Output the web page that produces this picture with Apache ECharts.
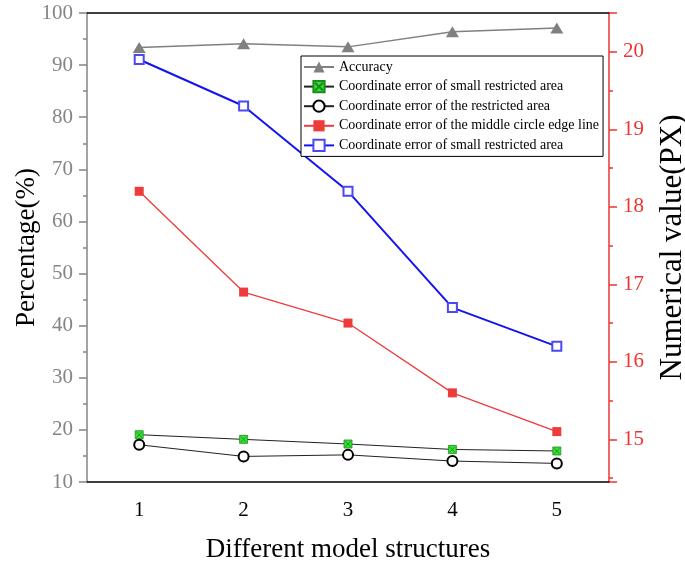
<!DOCTYPE html>
<html>
<head>
<meta charset="utf-8">
<script src="https://cdn.jsdelivr.net/npm/echarts@6/dist/echarts.min.js"></script>
<style>
  html, body { margin: 0; padding: 0; background: #fff; }
  #chart { width: 685px; height: 563px; }
</style>
</head>
<body>
<div id="chart"></div>
<script>
// model structures on the x axis
const structures = ['1', '2', '3', '4', '5'];
// left axis: accuracy in %
const accuracy = [93.4, 94.1, 93.5, 96.4, 97.1];
// right axis: coordinate errors in pixels
const errSmallArea = [15.06, 15.0, 14.94, 14.87, 14.85];
const errRestrictedArea = [14.93, 14.78, 14.80, 14.72, 14.69];
const errCircleEdge = [18.2, 16.9, 16.5, 15.6, 15.1];
const errSmallArea2 = [19.9, 19.3, 18.2, 16.7, 16.2];

const serif = 'Liberation Serif';
// green box with a cross in it
const crossBox = 'path://M0,0L10,0L10,10L0,10Z M1.5,1.5L8.5,8.5 M8.5,1.5L1.5,8.5';

const gridBox = { left: 87, right: 76, top: 13, bottom: 81, outerBoundsMode: 'none' };

let chart = echarts.init(document.getElementById('chart'));
let option = {
    animation: false,
    backgroundColor: '#fff',
    grid: [
        Object.assign({}, gridBox),
        Object.assign({}, gridBox)   // second grid only carries the minor ticks
    ],
    legend: {
        orient: 'vertical',
        left: 301,
        top: 56,
        itemWidth: 30,
        itemHeight: 14,
        itemGap: 5.6,
        padding: [4, 4, 4, 2],
        borderColor: '#000',
        borderWidth: 1,
        backgroundColor: '#fff',
        textStyle: { fontFamily: serif, fontSize: 14, color: '#000' }
    },
    xAxis: [
        {
            type: 'category',
            gridIndex: 0,
            position: 'bottom',
            data: structures,
            boundaryGap: true,
            axisLine: { lineStyle: { color: '#000', width: 1.5 } },
            axisTick: { alignWithLabel: true, length: 8, lineStyle: { color: '#000', width: 1.5 } },
            axisLabel: { fontFamily: serif, fontSize: 21, color: '#000', margin: 18 },
            splitLine: { show: false },
            name: 'Different model structures',
            nameLocation: 'middle',
            nameGap: 54,
            nameMoveOverlap: false,
            nameTextStyle: { fontFamily: serif, fontSize: 27, color: '#000' }
        },
        {
            type: 'category',
            gridIndex: 0,
            position: 'top',
            data: structures,
            boundaryGap: true,
            axisLine: { lineStyle: { color: '#000', width: 1.5 } },
            axisTick: { alignWithLabel: true, inside: true, length: 8, lineStyle: { color: '#000', width: 1.5 } },
            axisLabel: { show: false },
            splitLine: { show: false }
        },
        {
            type: 'category',
            gridIndex: 1,
            position: 'bottom',
            data: structures,
            boundaryGap: true,
            axisLine: { show: false },
            axisTick: { length: 4, lineStyle: { color: '#000', width: 1.5 } },
            axisLabel: { show: false },
            splitLine: { show: false }
        },
        {
            type: 'category',
            gridIndex: 1,
            position: 'top',
            data: structures,
            boundaryGap: true,
            axisLine: { show: false },
            axisTick: { inside: true, length: 4, lineStyle: { color: '#000', width: 1.5 } },
            axisLabel: { show: false },
            splitLine: { show: false }
        }
    ],
    yAxis: [
        {
            type: 'value',
            gridIndex: 0,
            position: 'left',
            min: 10,
            max: 100,
            interval: 10,
            axisLine: { show: true, lineStyle: { color: '#858585', width: 1.5 } },
            axisTick: { show: true, length: 8, lineStyle: { color: '#858585', width: 1.5 } },
            minorTick: { show: true, splitNumber: 2, length: 4, lineStyle: { color: '#858585', width: 1.5 } },
            axisLabel: { fontFamily: serif, fontSize: 21, color: '#858585', margin: 14 },
            splitLine: { show: false },
            name: 'Percentage(%)',
            nameLocation: 'middle',
            nameGap: 47,
            nameMoveOverlap: false,
            nameTextStyle: { fontFamily: serif, fontSize: 27, color: '#000' }
        },
        {
            type: 'value',
            gridIndex: 0,
            position: 'right',
            min: 14.45,
            max: 20.5,
            axisLine: { show: true, lineStyle: { color: '#ee3333', width: 1.5 } },
            axisTick: { show: true, length: 8, lineStyle: { color: '#ee3333', width: 1.5 } },
            minorTick: { show: true, splitNumber: 2, length: 4, lineStyle: { color: '#ee3333', width: 1.5 } },
            axisLabel: {
                fontFamily: serif, fontSize: 21, color: '#ee3333', margin: 14,
                showMinLabel: false, showMaxLabel: false
            },
            splitLine: { show: false },
            name: 'Numerical value(PX)',
            nameLocation: 'middle',
            nameGap: 48,
            nameMoveOverlap: false,
            nameTextStyle: { fontFamily: serif, fontSize: 31, color: '#000' }
        },
        {
            type: 'value',
            gridIndex: 1,
            show: false
        }
    ],
    series: [
        {
            name: 'Accuracy',
            type: 'line',
            yAxisIndex: 0,
            data: accuracy,
            symbol: 'triangle',
            symbolSize: [13, 11],
            itemStyle: { color: '#808080' },
            lineStyle: { color: '#808080', width: 1.5 }
        },
        {
            name: 'Coordinate error of small restricted area',
            type: 'line',
            yAxisIndex: 1,
            data: errSmallArea,
            symbol: crossBox,
            symbolSize: 8,
            itemStyle: { color: '#33e033', borderColor: '#1c8c1c', borderWidth: 0.8 },
            lineStyle: { color: '#222', width: 1 }
        },
        {
            name: 'Coordinate error of the restricted area',
            type: 'line',
            yAxisIndex: 1,
            data: errRestrictedArea,
            symbol: 'emptyCircle',
            symbolSize: 10,
            itemStyle: { color: '#000', borderWidth: 1.3 },
            lineStyle: { color: '#222', width: 1 }
        },
        {
            name: 'Coordinate error of the middle circle edge line',
            type: 'line',
            yAxisIndex: 1,
            data: errCircleEdge,
            symbol: 'rect',
            symbolSize: 9,
            itemStyle: { color: '#ee3b3b' },
            lineStyle: { color: '#ee3b3b', width: 1.3 }
        },
        {
            // same label as the green series in the figure; trailing space keeps it a separate legend entry
            name: 'Coordinate error of small restricted area ',
            type: 'line',
            yAxisIndex: 1,
            data: errSmallArea2,
            symbol: 'emptyRect',
            symbolSize: 9,
            itemStyle: { color: '#4a4af0', borderWidth: 1.5 },
            lineStyle: { color: '#1414ee', width: 2 }
        }
    ]
};
chart.setOption(option);
</script>
</body>
</html>
